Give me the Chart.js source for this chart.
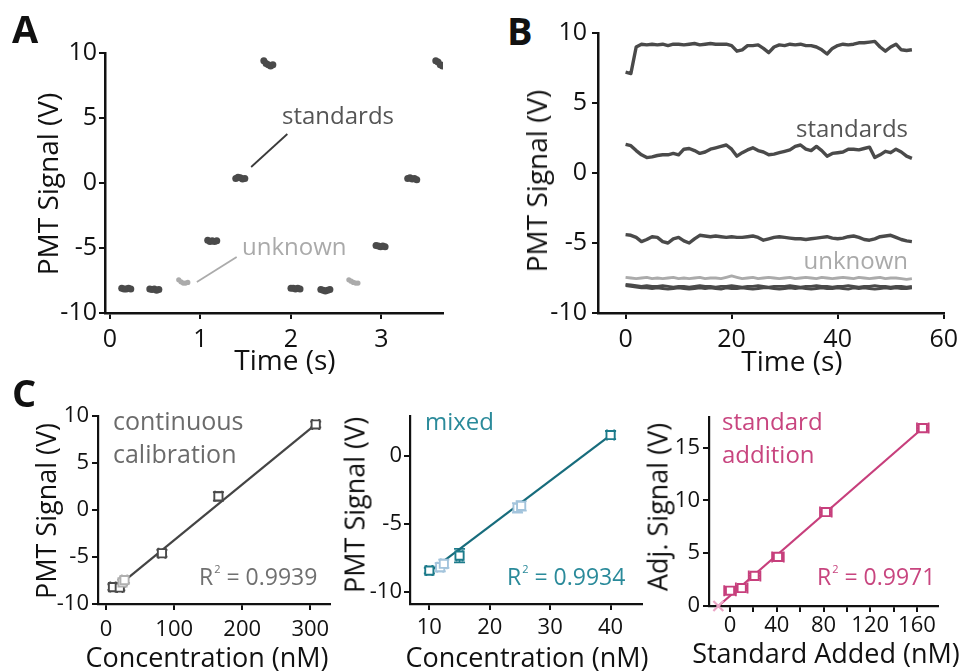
<!DOCTYPE html>
<html><head><meta charset="utf-8">
<script src="https://cdn.jsdelivr.net/npm/chart.js@4.4.1/dist/chart.umd.min.js"></script>
<style>
html,body{margin:0;padding:0;background:#fff;width:964px;height:671px;overflow:hidden;}
#wrap{position:relative;width:964px;height:671px;font-family:'Open Sans',sans-serif;}
canvas{position:absolute;}
.t{position:absolute;white-space:nowrap;line-height:1;}
.sup{font-size:11px;position:relative;top:-12px;margin-left:1px;}
</style></head><body><div id="wrap"></div>
<script>
// ---------- Panel A: raw PMT signal vs time ----------
const aStdTime   = [0.13,0.155,0.18,0.205,0.23, 0.44,0.465,0.49,0.515,0.54, 1.08,1.105,1.13,1.155,1.18, 1.39,1.415,1.44,1.465,1.49, 1.70,1.725,1.75,1.775,1.80,
                    2.00,2.025,2.05,2.075,2.10, 2.33,2.355,2.38,2.405,2.43, 2.94,2.965,2.99,3.015,3.04, 3.29,3.315,3.34,3.365,3.39, 3.60,3.625,3.65,3.675,3.70];
const aStdSignal = [-8.1,-8.15,-8.15,-8.1,-8.15, -8.15,-8.2,-8.15,-8.25,-8.2, -4.4,-4.5,-4.45,-4.5,-4.45, 0.35,0.45,0.4,0.3,0.35, 9.4,9.2,9.1,9.0,9.1,
                    -8.1,-8.1,-8.15,-8.1,-8.15, -8.2,-8.25,-8.3,-8.25,-8.2, -4.8,-4.85,-4.9,-4.85,-4.9, 0.35,0.4,0.3,0.35,0.25, 9.4,9.3,9.1,9.0,9.1];
const aUnkTime   = [0.76,0.785,0.81,0.835,0.86, 2.64,2.665,2.69,2.715,2.74];
const aUnkSignal = [-7.45,-7.6,-7.7,-7.7,-7.65, -7.45,-7.55,-7.65,-7.7,-7.7];
const aStdPointerTime = [1.56, 1.96], aStdPointerSignal = [1.23, 3.77];
const aUnkPointerTime = [0.96, 1.40], aUnkPointerSignal = [-7.62, -5.69];

// ---------- Panel B: continuous traces ----------
const bTime = [0,1,2,3,4,5,6,7,8,9,10,11,12,13,14,15,16,17,18,19,20,21,22,23,24,25,26,27,28,29,30,31,32,33,34,35,36,37,38,39,40,41,42,43,44,45,46,47,48,49,50,51,52,53,54];
const bStdHigh = [7.2,7.1,9.0,9.2,9.15,9.2,9.15,9.2,9.1,9.2, 9.2,9.15,9.2,9.25,9.15,9.2,9.25,9.2,9.2,9.2, 9.1,8.7,8.8,9.1,9.1,9.15,8.9,8.6,9.0,9.15, 9.1,9.2,9.15,9.2,9.1,9.1,9.0,8.8,8.5,8.9, 9.1,9.2,9.15,9.2,9.3,9.3,9.35,9.4,9.0,8.7, 9.0,9.2,8.8,8.75,8.8];
const bStdMid = [2.05,1.95,1.6,1.3,1.1,1.15,1.25,1.3,1.3,1.4, 1.3,1.7,1.75,1.6,1.4,1.5,1.7,1.8,1.9,2.0, 1.7,1.2,1.45,1.65,1.8,1.6,1.5,1.3,1.35,1.45, 1.55,1.65,1.9,2.0,1.7,1.6,1.9,1.6,1.2,1.4, 1.45,1.5,1.7,1.7,1.65,1.75,1.85,1.1,1.3,1.55, 1.45,1.7,1.5,1.2,1.05];
const bStdLow = [-4.4,-4.45,-4.6,-4.9,-4.75,-4.55,-4.6,-4.9,-5.0,-4.7, -4.6,-4.85,-5.0,-4.7,-4.45,-4.5,-4.55,-4.5,-4.55,-4.6, -4.55,-4.6,-4.6,-4.55,-4.5,-4.6,-4.8,-4.7,-4.6,-4.55, -4.6,-4.65,-4.7,-4.7,-4.75,-4.7,-4.65,-4.6,-4.55,-4.65, -4.7,-4.65,-4.55,-4.5,-4.6,-4.75,-4.8,-4.7,-4.55,-4.5, -4.45,-4.6,-4.75,-4.85,-4.9];
const bUnknown = [-7.45,-7.5,-7.55,-7.5,-7.45,-7.55,-7.5,-7.55,-7.5,-7.45, -7.55,-7.5,-7.55,-7.5,-7.45,-7.55,-7.5,-7.5,-7.55,-7.45, -7.35,-7.45,-7.55,-7.5,-7.45,-7.55,-7.5,-7.45,-7.5,-7.55, -7.5,-7.45,-7.55,-7.5,-7.45,-7.5,-7.55,-7.45,-7.5,-7.55, -7.5,-7.45,-7.5,-7.55,-7.45,-7.5,-7.55,-7.5,-7.45,-7.55, -7.5,-7.5,-7.55,-7.6,-7.55];
const bBlank1 = [-7.95,-8.0,-8.05,-8.1,-8.05,-8.1,-8.1,-8.05,-8.1,-8.15, -8.1,-8.1,-8.15,-8.1,-8.05,-8.1,-8.1,-8.15,-8.1,-8.1, -8.05,-8.1,-8.15,-8.1,-8.1,-8.05,-8.1,-8.15,-8.1,-8.1, -8.1,-8.05,-8.1,-8.15,-8.1,-8.1,-8.05,-8.1,-8.1,-8.15, -8.1,-8.1,-8.05,-8.1,-8.15,-8.1,-8.1,-8.05,-8.1,-8.1, -8.15,-8.1,-8.1,-8.15,-8.1];
const bBlank2 = [-8.05,-8.1,-8.15,-8.2,-8.2,-8.25,-8.2,-8.25,-8.3,-8.25, -8.2,-8.25,-8.3,-8.25,-8.2,-8.25,-8.2,-8.25,-8.3,-8.2, -8.25,-8.25,-8.2,-8.25,-8.3,-8.25,-8.2,-8.2,-8.25,-8.3, -8.25,-8.2,-8.25,-8.2,-8.25,-8.3,-8.25,-8.2,-8.25,-8.25, -8.2,-8.25,-8.3,-8.2,-8.25,-8.2,-8.25,-8.3,-8.25,-8.2, -8.25,-8.2,-8.25,-8.25,-8.2];

// ---------- Panel C1: continuous calibration ----------
const c1StdConc = [10, 20, 82, 165, 308];
const c1StdSignal = [-8.2, -8.25, -4.6, 1.45, 9.1];
const c1StdErrConc = [4, 4, 5, 5, 5];
const c1StdErrSignal = [0.3, 0.3, 0.35, 0.45, 0.3];
const c1UnkConc = [24, 27];
const c1UnkSignal = [-7.7, -7.45];
const c1UnkErrConc = [4, 4];
const c1UnkErrSignal = [0.3, 0.3];
const c1FitConc = [25, 308], c1FitSignal = [-7.65, 9.1];

// ---------- Panel C2: mixed ----------
const c2StdConc = [10, 15, 40];
const c2StdSignal = [-8.45, -7.35, 1.5];
const c2StdErrConc = [0.5, 0.5, 0.6];
const c2StdErrSignal = [0.2, 0.5, 0.3];
const c2UnkConc = [11.8, 12.4, 24.6, 25.2];
const c2UnkSignal = [-8.2, -7.95, -3.85, -3.7];
const c2UnkErrConc = [0.5, 0.5, 0.5, 0.5];
const c2UnkErrSignal = [0.3, 0.3, 0.35, 0.35];
const c2FitConc = [10, 40], c2FitSignal = [-8.55, 1.5];

// ---------- Panel C3: standard addition ----------
const c3Added = [0, 10, 21, 41, 82, 165];
const c3AdjSignal = [1.45, 1.7, 2.85, 4.65, 8.9, 16.85];
const c3ErrAdded = [5, 5, 5, 5, 5, 5];
const c3ErrSignal = [0.2, 0.2, 0.25, 0.25, 0.25, 0.25];
const c3InterceptAdded = [-10], c3InterceptSignal = [0];
const c3FitAdded = [-10, 166], c3FitSignal = [0, 16.95];
const c3LabelEvery = 40;

// ---------------------------------------------------------
Chart.defaults.font.family = "'Open Sans', sans-serif";
Chart.defaults.color = '#111';
Chart.defaults.animation = false;
Chart.defaults.plugins.legend.display = false;
Chart.defaults.plugins.tooltip.enabled = false;

const wrap = document.getElementById('wrap');
const pts = (xs, ys) => xs.map((x, i) => ({x, y: ys[i]}));

function text(html, o) {
  const d = document.createElement('div');
  d.className = 't';
  d.innerHTML = html;
  d.style.fontSize = o.size + 'px';
  d.style.color = o.color || '#111';
  d.style.fontWeight = o.weight || 400;
  d.style.top = (o.baseline - 0.888 * o.size) + 'px';
  if (o.left != null) d.style.left = o.left + 'px';
  else d.style.right = (964 - o.right) + 'px';
  wrap.appendChild(d);
}
function title(txt, cx, cy, size, rot) {
  const d = document.createElement('div');
  d.className = 't';
  d.textContent = txt;
  d.style.fontSize = size + 'px';
  d.style.color = '#111';
  d.style.left = cx + 'px';
  d.style.top = cy + 'px';
  d.style.transform = 'translate(-50%,-50%)' + (rot ? ' rotate(-90deg)' : '');
  wrap.appendChild(d);
}

const errorBars = {
  id: 'errorBars',
  beforeDatasetsDraw(chart) {
    const {ctx} = chart; const xs = chart.scales.x, ys = chart.scales.y;
    chart.data.datasets.forEach(ds => {
      if (!ds.errY) return;
      ctx.save();
      ctx.strokeStyle = ds.borderColor; ctx.lineWidth = 1.8;
      ds.data.forEach((p, j) => {
        const px = xs.getPixelForValue(p.x), py = ys.getPixelForValue(p.y);
        const y1 = ys.getPixelForValue(p.y + ds.errY[j]), y2 = ys.getPixelForValue(p.y - ds.errY[j]);
        const x1 = xs.getPixelForValue(p.x - ds.errX[j]), x2 = xs.getPixelForValue(p.x + ds.errX[j]);
        const cap = 5.5;
        ctx.beginPath();
        ctx.moveTo(px, y1); ctx.lineTo(px, y2);
        ctx.moveTo(px - cap, y1); ctx.lineTo(px + cap, y1);
        ctx.moveTo(px - cap, y2); ctx.lineTo(px + cap, y2);
        ctx.moveTo(x1, py); ctx.lineTo(x2, py);
        ctx.moveTo(x1, py - cap); ctx.lineTo(x1, py + cap);
        ctx.moveTo(x2, py - cap); ctx.lineTo(x2, py + cap);
        ctx.stroke();
      });
      ctx.restore();
    });
  }
};

function axis(min, max, step, size, pad, bw, extra) {
  return Object.assign({
    type: 'linear', min, max,
    border: {display: true, color: '#111', width: bw},
    grid: {display: true, drawOnChartArea: false, drawTicks: true, tickLength: 6, color: '#111', lineWidth: 2},
    ticks: {stepSize: step, includeBounds: false, font: {size}, color: '#111', padding: pad, maxRotation: 0, autoSkip: false}
  }, extra || {});
}

function makeChart(a, cfg) {
  const c = document.createElement('canvas');
  const left = a.L - a.wy, top = a.T - a.pt, w = a.R + a.pr - left, h = a.B + a.hx - top;
  c.width = w; c.height = h;
  c.style.left = left + 'px'; c.style.top = top + 'px';
  c.style.width = w + 'px'; c.style.height = h + 'px';
  wrap.appendChild(c);
  cfg.options.responsive = false;
  cfg.options.maintainAspectRatio = false;
  cfg.options.layout = {padding: {top: a.pt, right: a.pr, left: 0, bottom: 0}};
  cfg.options.scales.x.afterFit = s => { s.height = a.hx; };
  cfg.options.scales.y.afterFit = s => { s.width = a.wy; };
  cfg.plugins = [errorBars];
  return new Chart(c, cfg);
}

const DARK = '#4a4a4a', LIGHT = '#ababab';

// Panel A
makeChart({L:105, R:443, T:53, B:313, wy:70, pt:20, pr:25, hx:40}, {
  type: 'scatter',
  data: {datasets: [
    {data: pts(aStdPointerTime, aStdPointerSignal), showLine: true, borderColor: '#3a3a3a', borderWidth: 1.8, pointRadius: 0},
    {data: pts(aUnkPointerTime, aUnkPointerSignal), showLine: true, borderColor: LIGHT, borderWidth: 1.8, pointRadius: 0},
    {data: pts(aStdTime, aStdSignal), pointRadius: 3.5, backgroundColor: DARK, pointBorderWidth: 0},
    {data: pts(aUnkTime, aUnkSignal), pointRadius: 2.6, backgroundColor: LIGHT, pointBorderWidth: 0}
  ]},
  options: {scales: {
    x: axis(-0.055, 3.68, 1, 25, 6, 2.5),
    y: axis(-10, 10, 5, 25, 2, 2.5)
  }}
});

// Panel B
const trace = (ys, color, w) => ({data: pts(bTime, ys), showLine: true, borderColor: color, borderWidth: w, pointRadius: 0, tension: 0, borderJoinStyle: 'round'});
makeChart({L:598, R:947, T:33, B:313, wy:60, pt:20, pr:17, hx:40}, {
  type: 'scatter',
  data: {datasets: [
    trace(bStdHigh, DARK, 3.4), trace(bStdMid, DARK, 3.4), trace(bStdLow, DARK, 3.4),
    trace(bUnknown, LIGHT, 2.8), trace(bBlank1, DARK, 2.8), trace(bBlank2, DARK, 2.8)
  ]},
  options: {scales: {
    x: axis(-5.2, 60, 20, 25, 6, 2.5),
    y: axis(-10, 10, 5, 25, 5, 2.5)
  }}
});

function markers(xs, ys, ex, ey, color, order) {
  return {data: pts(xs, ys), errX: ex, errY: ey, borderColor: color, pointBorderColor: color,
          pointBackgroundColor: '#ffffff', pointStyle: 'rect', pointRadius: 5.8, pointBorderWidth: 1.9, order};
}
function fit(xs, ys, color, order) {
  return {data: pts(xs, ys), showLine: true, borderColor: color, borderWidth: 2.2, pointRadius: 0, order};
}

// Panel C1
makeChart({L:98, R:330, T:416, B:604, wy:50, pt:20, pr:25, hx:40}, {
  type: 'scatter',
  data: {datasets: [
    fit(c1FitConc, c1FitSignal, '#444444', 3),
    markers(c1StdConc, c1StdSignal, c1StdErrConc, c1StdErrSignal, '#4a4a4a', 2),
    markers(c1UnkConc, c1UnkSignal, c1UnkErrConc, c1UnkErrSignal, '#b0b0b0', 1)
  ]},
  options: {scales: {
    x: axis(-12, 329, 100, 22, 7, 2.2),
    y: axis(-10, 10, 5, 22, 3, 2.2)
  }}
});

// Panel C2
const TEAL = '#1c7b8b', TEAL_LIGHT = '#a3c4dc';
makeChart({L:410, R:642, T:416, B:604, wy:50, pt:20, pr:25, hx:40}, {
  type: 'scatter',
  data: {datasets: [
    fit(c2FitConc, c2FitSignal, '#176c7c', 3),
    markers(c2StdConc, c2StdSignal, c2StdErrConc, c2StdErrSignal, TEAL, 1),
    markers(c2UnkConc, c2UnkSignal, c2UnkErrConc, c2UnkErrSignal, TEAL_LIGHT, 2)
  ]},
  options: {scales: {
    x: axis(6.8, 45.2, 10, 22, 5, 2.2),
    y: axis(-10.9, 2.9, 5, 22, 2, 2.2)
  }}
});

// Panel C3
const PINK = '#c73f7c', PINK_LIGHT = '#eba6c6';
makeChart({L:709, R:938, T:417, B:606, wy:50, pt:20, pr:25, hx:40}, {
  type: 'scatter',
  data: {datasets: [
    fit(c3FitAdded, c3FitSignal, PINK, 3),
    markers(c3Added, c3AdjSignal, c3ErrAdded, c3ErrSignal, PINK, 1),
    {data: pts(c3InterceptAdded, c3InterceptSignal), pointStyle: 'crossRot', pointRadius: 7, pointBorderWidth: 2.2,
     pointBorderColor: PINK_LIGHT, borderColor: PINK_LIGHT, clip: false, order: 0}
  ]},
  options: {scales: {
    x: axis(-18, 178, 20, 22, 1, 2.2, {}),
    y: axis(0, 17.9, 5, 22, 3, 2.2)
  }}
});
// show labels only every 40 nM on C3 x axis
Object.values(Chart.instances).forEach(ch => {
  if (ch.options.scales.x.min === -18) {
    ch.options.scales.x.ticks.callback = v => (v % c3LabelEvery === 0 ? String(v) : '');
    ch.update();
  }
});

// ---------- Text ----------
text('A', {left: 12, baseline: 43, size: 38, weight: 700});
text('B', {left: 507, baseline: 45, size: 38, weight: 700});
text('C', {left: 12, baseline: 407, size: 38, weight: 700});

text('standards', {left: 282, baseline: 124, size: 24, color: '#555'});
text('unknown', {left: 242, baseline: 255, size: 24, color: '#aaa'});
text('standards', {right: 908, baseline: 137, size: 24, color: '#555'});
text('unknown', {right: 908, baseline: 269, size: 24, color: '#aaa'});

text('continuous', {left: 113, baseline: 430, size: 25, color: '#6b6b6b'});
text('calibration', {left: 113, baseline: 463, size: 25, color: '#6b6b6b'});
text('R<span class="sup">2</span> = 0.9939', {left: 199, baseline: 585, size: 23, color: '#707070'});
text('mixed', {left: 425, baseline: 430, size: 24, color: '#2a8a9a'});
text('R<span class="sup">2</span> = 0.9934', {left: 507, baseline: 585, size: 23, color: '#2a8a9a'});
text('standard', {left: 722, baseline: 430, size: 24, color: '#c8457f'});
text('addition', {left: 722, baseline: 463, size: 24, color: '#c8457f'});
text('R<span class="sup">2</span> = 0.9971', {left: 817, baseline: 585, size: 23, color: '#c8457f'});

title('PMT Signal (V)', 47, 184, 28, true);
title('Time (s)', 285, 359, 28, false);
title('PMT Signal (V)', 536, 181, 28, true);
title('Time (s)', 792, 360, 28, false);
title('PMT Signal (V)', 45, 511, 27, true);
title('Concentration (nM)', 207, 656, 27, false);
title('PMT Signal (V)', 354, 505, 27, true);
title('Concentration (nM)', 527, 656, 27, false);
title('Adj. Signal (V)', 657, 507, 27, true);
title('Standard Added (nM)', 826, 652, 27, false);
</script></body></html>
